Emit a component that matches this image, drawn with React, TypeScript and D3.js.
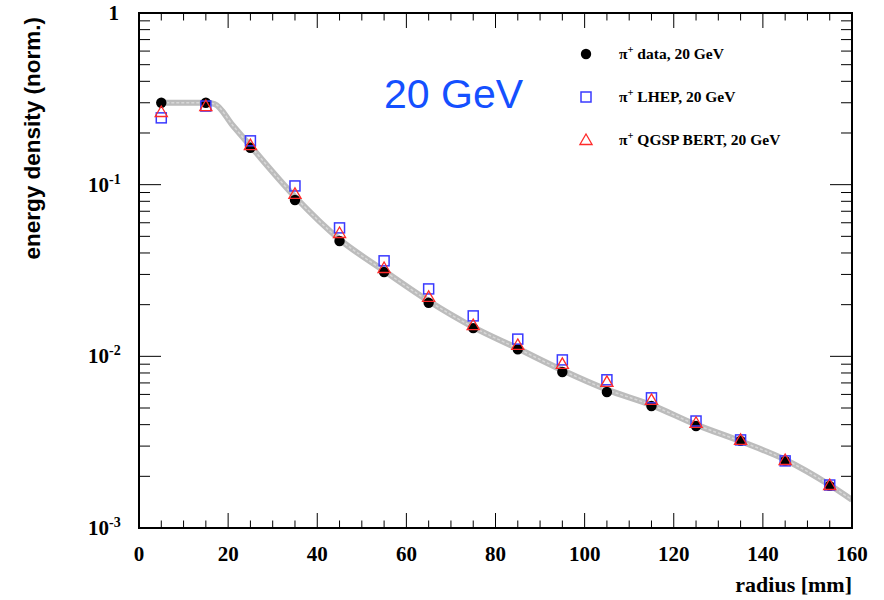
import React from 'react';
import * as d3 from 'd3';

const radius = [5, 15, 25, 35, 45, 55, 65, 75, 85, 95, 105, 115, 125, 135, 145, 155];
const dataVals = [0.30, 0.30, 0.164, 0.0814, 0.047, 0.031, 0.0205, 0.0146, 0.011, 0.0081, 0.0062, 0.00514, 0.00393, 0.00322, 0.00246, 0.00176];
const lhepVals = [0.245, 0.287, 0.18, 0.0983, 0.056, 0.036, 0.0247, 0.0172, 0.0126, 0.00953, 0.0073, 0.00573, 0.0042, 0.00326, 0.00246, 0.00178];
const qgspVals = [0.265, 0.287, 0.17, 0.0883, 0.0523, 0.0327, 0.0222, 0.0152, 0.01165, 0.00903, 0.0071, 0.00557, 0.0041, 0.00326, 0.00249, 0.00178];

// fitted band (grey)
const bandX = [5, 15, 17, 21, 25, 35, 45, 55, 65, 75, 85, 95, 105, 115, 125, 135, 145, 155, 160];
const bandY = [0.30, 0.30, 0.295, 0.222, 0.168, 0.085, 0.048, 0.0315, 0.021, 0.0148, 0.0111, 0.0083, 0.0064, 0.0052, 0.0040, 0.0032, 0.0025, 0.00178, 0.00146];

const xTicks = [0, 20, 40, 60, 80, 100, 120, 140, 160];
const yDecades = [1, 0.1, 0.01, 0.001];
const yLabels = ['1', '-1', '-2', '-3'];

const legendItems = ['data', 'LHEP', 'QGSP BERT'];

const W = 884, H = 600;
const left = 139, right = 852, top = 13, bottom = 528;

export default function App() {
  const x = d3.scaleLinear().domain([0, 160]).range([left, right]);
  const y = d3.scaleLog().domain([0.001, 1]).range([bottom, top]);

  const xMinor = d3.range(0, 161, 5);
  const yMinor: number[] = [];
  [0.001, 0.01, 0.1].forEach(d => { for (let k = 1; k <= 9; k++) yMinor.push(d * k); });
  yMinor.push(1);

  const band = d3.line<number>()
    .x((d, i) => x(bandX[i]))
    .y(d => y(d))
    .curve(d3.curveMonotoneX)(bandY) || '';

  const tri = d3.symbol().type(d3.symbolTriangle).size(64)() || '';
  const serif = '"Liberation Serif", "Times New Roman", serif';
  const sans = '"Liberation Sans", Arial, sans-serif';

  const legendRows = [54, 97, 140];

  const marker = (kind: number, cx: number, cy: number, key: string) => {
    if (kind === 0) return <circle key={key} cx={cx} cy={cy} r={5.2} fill="#000" />;
    if (kind === 1) return <rect key={key} x={cx - 5} y={cy - 5} width={10} height={10} fill="none" stroke="#3a3aff" strokeWidth={1.5} />;
    return <path key={key} d={tri} transform={`translate(${cx},${cy + 1})`} fill="none" stroke="#ff2a2a" strokeWidth={1.3} />;
  };

  return (
    <div style={{ position: 'fixed', left: 0, top: 0 }}>
      <svg width={W} height={H} style={{ display: 'block', background: '#fff' }}>
        <defs>
          <clipPath id="plot">
            <rect x={left} y={top} width={right - left} height={bottom - top} />
          </clipPath>
        </defs>

        {/* band */}
        <g clipPath="url(#plot)">
          <path d={band} fill="none" stroke="#bcbcbc" strokeWidth={6} />
          <path d={band} fill="none" stroke="#d8d8d8" strokeWidth={1.5} strokeDasharray="3 2" />
        </g>

        {/* markers */}
        {radius.map((r, i) => marker(0, x(r), y(dataVals[i]), 'c' + i))}
        {radius.map((r, i) => marker(1, x(r), y(lhepVals[i]), 's' + i))}
        {radius.map((r, i) => marker(2, x(r), y(qgspVals[i]), 't' + i))}

        {/* frame */}
        <rect x={left} y={top} width={right - left} height={bottom - top} fill="none" stroke="#000" strokeWidth={2} />

        {/* x ticks */}
        {xMinor.map(v => {
          const major = v % 20 === 0;
          const len = major ? 15 : 7.5;
          return (
            <g key={'xt' + v} stroke="#000" strokeWidth={1}>
              <line x1={x(v)} x2={x(v)} y1={bottom} y2={bottom - len} />
              <line x1={x(v)} x2={x(v)} y1={top} y2={top + len} />
            </g>
          );
        })}
        {/* y ticks */}
        {yMinor.map((v, i) => {
          const major = yDecades.some(d => Math.abs(d - v) / d < 1e-6);
          const len = major ? 22 : 11;
          return (
            <g key={'yt' + i} stroke="#000" strokeWidth={1}>
              <line x1={left} x2={left + len} y1={y(v)} y2={y(v)} />
              <line x1={right} x2={right - len} y1={y(v)} y2={y(v)} />
            </g>
          );
        })}

        {/* x labels */}
        {xTicks.map(v => (
          <text key={'xl' + v} x={x(v)} y={561} textAnchor="middle" fontFamily={serif} fontWeight="bold" fontSize={21}>{v}</text>
        ))}
        <text x={right} y={592} textAnchor="end" fontFamily={serif} fontWeight="bold" fontSize={22}>radius [mm]</text>

        {/* y labels */}
        {yDecades.map((d, i) => (
          i === 0
            ? <text key="yl0" x={119} y={y(d) + 7} textAnchor="end" fontFamily={serif} fontWeight="bold" fontSize={21}>1</text>
            : <text key={'yl' + i} x={88} y={y(d) + 7} fontFamily={serif} fontWeight="bold" fontSize={21}>
                10<tspan dy={-8} fontSize={14}>{yLabels[i]}</tspan>
              </text>
        ))}
        <text transform={`translate(40,${top + 4}) rotate(-90)`} textAnchor="end" fontFamily={sans} fontWeight="bold" fontSize={22.5}>energy density (norm.)</text>

        {/* big label */}
        <text x={384} y={108} fontFamily={sans} fontSize={41} fill="#1450ff">20 GeV</text>

        {/* legend */}
        {legendItems.map((name, i) => (
          <g key={'lg' + i}>
            {marker(i, 586, legendRows[i], 'lm' + i)}
            <text x={619} y={legendRows[i] + 5} fontFamily={serif} fontWeight="bold" fontSize={15.5}>
              π<tspan dy={-6} fontSize={10.5}>+</tspan><tspan dy={6}> {name}, 20 GeV</tspan>
            </text>
          </g>
        ))}
      </svg>
    </div>
  );
}
